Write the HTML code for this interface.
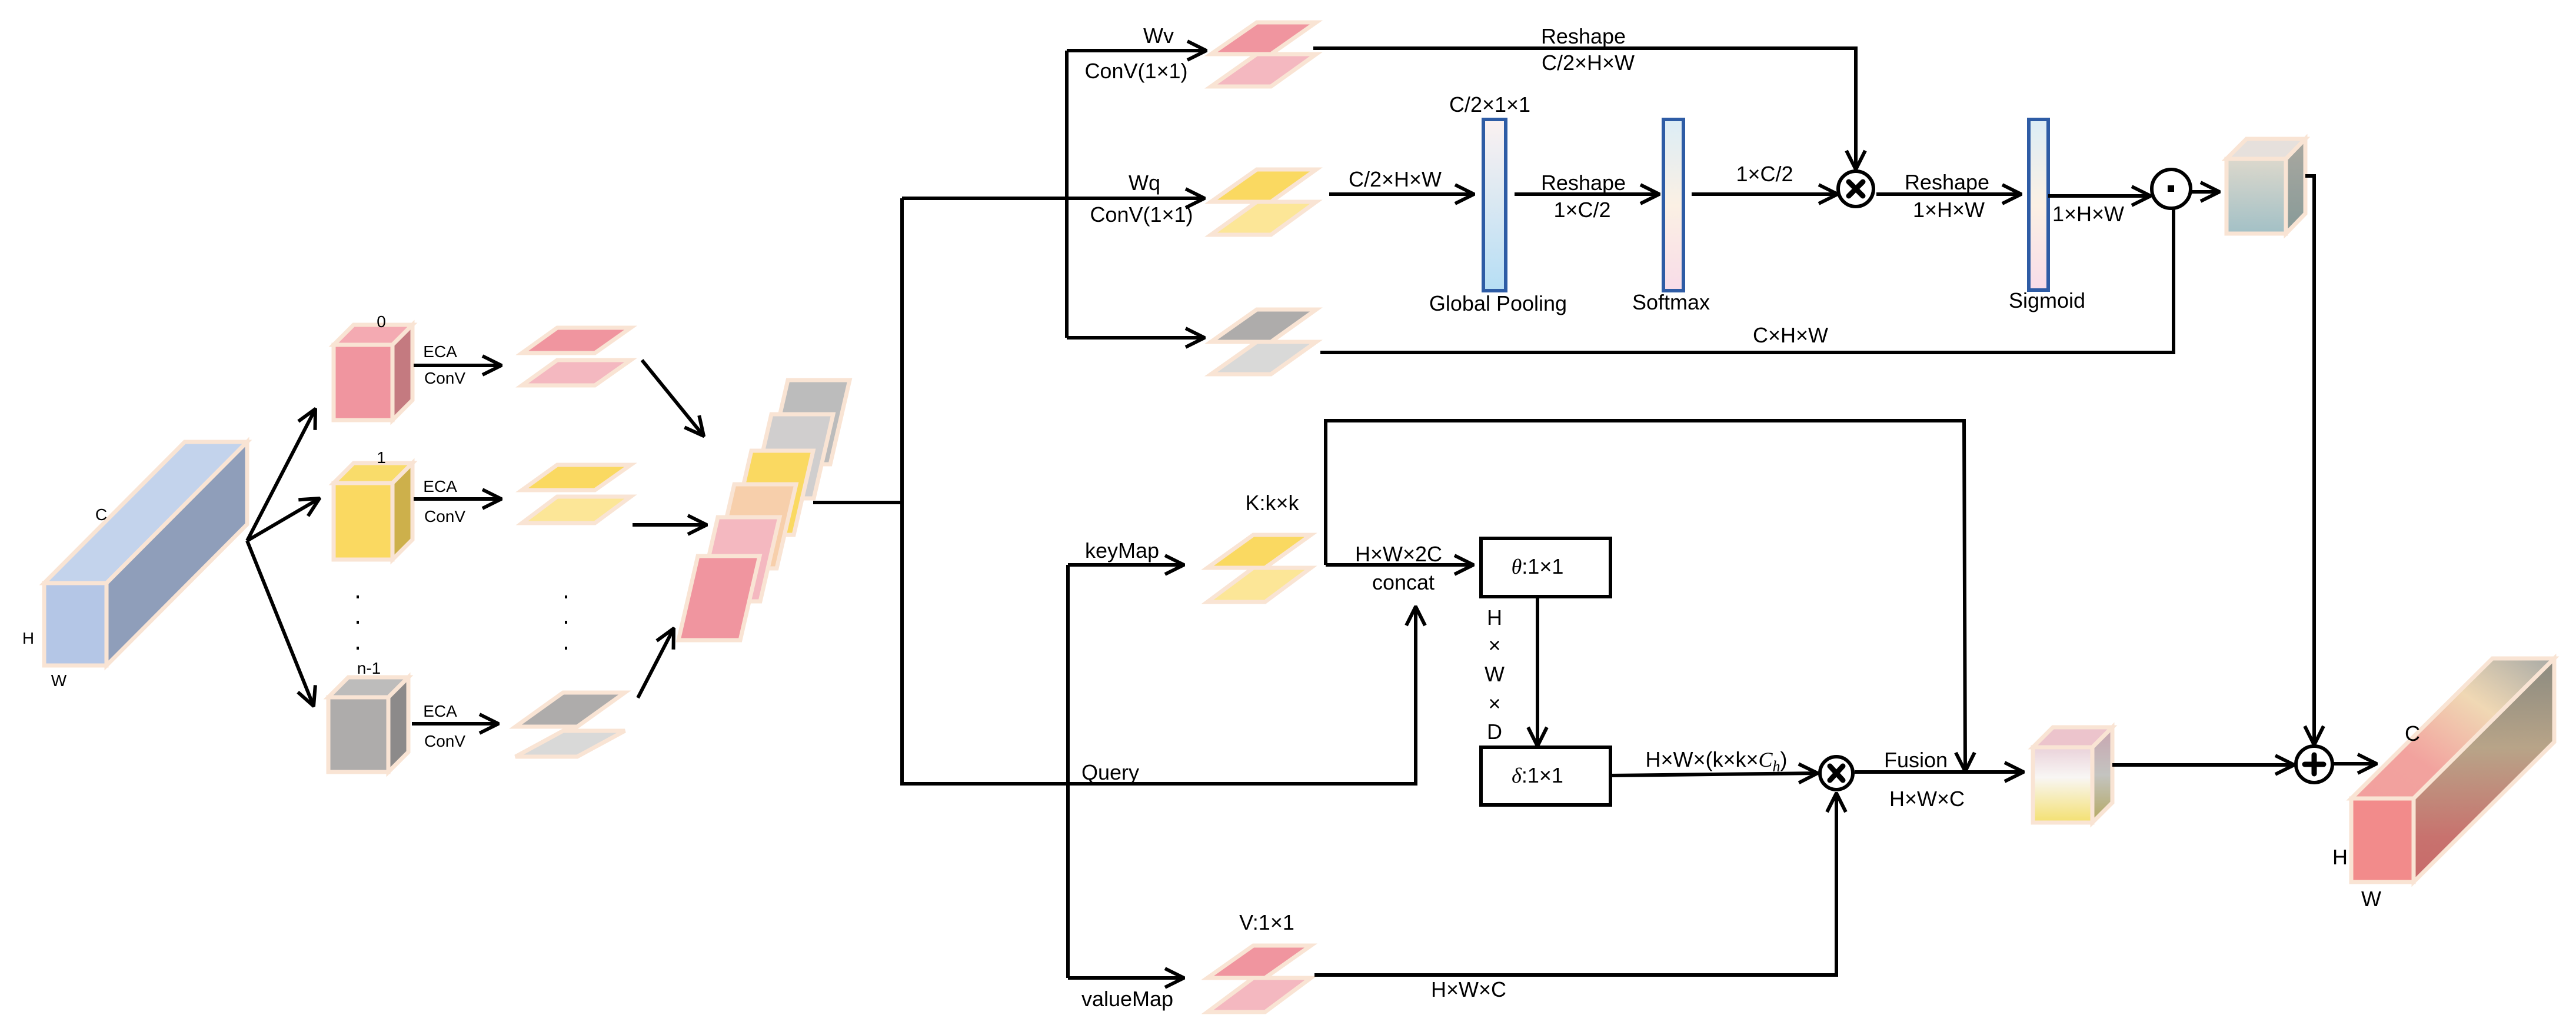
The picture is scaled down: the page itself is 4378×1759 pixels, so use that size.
<!DOCTYPE html>
<html><head><meta charset="utf-8"><style>html,body{margin:0;padding:0;background:#fff}svg{display:block}text{font-family:"Liberation Sans Narrow","Liberation Sans",sans-serif;fill:#000}</style></head>
<body>
<svg width="4378" height="1759" viewBox="0 0 4378 1759" xmlns="http://www.w3.org/2000/svg">
<defs>
<marker id="a" viewBox="0 0 20 20" refX="19" refY="10" markerUnits="userSpaceOnUse" markerWidth="40" markerHeight="40" orient="auto"><path d="M3,2 L19,10 L3,18" fill="none" stroke="#000" stroke-width="3"/></marker>
<linearGradient id="gp" x1="0" y1="0" x2="0" y2="1"><stop offset="0" stop-color="#fbf1f1"/><stop offset="1" stop-color="#b6def4"/></linearGradient>
<linearGradient id="sm" x1="0" y1="0" x2="0" y2="1"><stop offset="0" stop-color="#dcedf6"/><stop offset="0.5" stop-color="#fbf0e4"/><stop offset="1" stop-color="#f8dce8"/></linearGradient>
<linearGradient id="c1f" x1="0" y1="0" x2="0" y2="1"><stop offset="0" stop-color="#dcd8cc"/><stop offset="1" stop-color="#a2c0c6"/></linearGradient>
<linearGradient id="c1s" x1="0" y1="0" x2="0" y2="1"><stop offset="0" stop-color="#aaa8a0"/><stop offset="1" stop-color="#879a98"/></linearGradient>
<linearGradient id="c2f" x1="0" y1="0" x2="0" y2="1"><stop offset="0" stop-color="#ead2da"/><stop offset="0.4" stop-color="#f8f6f4"/><stop offset="1" stop-color="#f4e070"/></linearGradient>
<linearGradient id="c2s" x1="0" y1="0" x2="0" y2="1"><stop offset="0" stop-color="#c8a4b0"/><stop offset="0.5" stop-color="#c4c4c0"/><stop offset="1" stop-color="#b4a860"/></linearGradient>
<linearGradient id="obt" x1="1" y1="0" x2="0" y2="1"><stop offset="0" stop-color="#a8aaa6"/><stop offset="0.35" stop-color="#f0d8b4"/><stop offset="0.7" stop-color="#f2a29e"/><stop offset="1" stop-color="#f2a09e"/></linearGradient>
<linearGradient id="obs" x1="0" y1="0" x2="0" y2="1"><stop offset="0" stop-color="#8a8a80"/><stop offset="0.4" stop-color="#b8a488"/><stop offset="0.8" stop-color="#c8726e"/><stop offset="1" stop-color="#c86a6a"/></linearGradient>
</defs>
<g stroke="#f9e4d4" stroke-width="7" stroke-linejoin="miter">
<!-- input bar -->
<polygon points="75,991 314,751 420,751 181,991" fill="#c3d3ec"/>
<polygon points="181,991 420,751 420,891 181,1131" fill="#8f9eba"/>
<rect x="75" y="991" width="106" height="140" fill="#b4c6e6"/>
<!-- cubes -->
<polygon points="567,586 601,552 701,552 667,586" fill="#f4aab2"/><polygon points="667,586 701,552 701,680 667,714" fill="#c47a80"/><rect x="567" y="586" width="100" height="128" fill="#f0959f"/>
<polygon points="567,821 601,787 701,787 667,821" fill="#f9dc6a"/><polygon points="667,821 701,787 701,917 667,951" fill="#cdb04b"/><rect x="567" y="821" width="100" height="130" fill="#fad961"/>
<polygon points="558,1185 592,1151 694,1151 660,1185" fill="#bdbcbb"/><polygon points="660,1185 694,1151 694,1278 660,1312" fill="#8c8a8a"/><rect x="558" y="1185" width="102" height="127" fill="#aeacab"/>
<!-- small paras -->
<polygon points="887,600 1011,600 1072,557 947,557" fill="#f0959f"/><polygon points="887,655 1011,655 1072,612 947,612" fill="#f4b8c0"/>
<polygon points="887,833 1011,833 1072,790 947,790" fill="#fad961"/><polygon points="887,889 1011,889 1072,844 947,844" fill="#fce697"/>
<polygon points="876,1235 981,1235 1062,1177 957,1177" fill="#aeacab"/><polygon points="876,1286 981,1286 1062,1242 957,1242" fill="#d9d9d8"/>
<!-- stack -->
<polygon points="1306,789 1411,789 1444,646 1339,646" fill="#bcbcbc"/>
<polygon points="1278,847 1383,847 1416,704 1311,704" fill="#d0cece"/>
<polygon points="1244,909 1349,909 1382,766 1277,766" fill="#fad961"/>
<polygon points="1215,966 1320,966 1353,823 1248,823" fill="#f7cfab"/>
<polygon points="1187,1022 1292,1022 1325,879 1220,879" fill="#f4b8c0"/>
<polygon points="1153,1088 1258,1088 1291,945 1186,945" fill="#f0959f"/>
<!-- Wv/Wq paras -->
<polygon points="2058,92 2160,92 2237,38 2136,38" fill="#f0959f"/><polygon points="2058,147 2160,147 2237,92 2136,92" fill="#f4b8c0"/>
<polygon points="2058,343 2160,343 2237,288 2136,288" fill="#fad961"/><polygon points="2058,399 2160,399 2237,343 2136,343" fill="#fce697"/>
<polygon points="2058,581 2160,581 2237,526 2136,526" fill="#aeacab"/><polygon points="2058,636 2160,636 2237,581 2136,581" fill="#d9d9d8"/>
<polygon points="2052,965 2150,965 2228,909 2130,909" fill="#fad961"/><polygon points="2052,1023 2150,1023 2228,965 2130,965" fill="#fce697"/>
<polygon points="2052,1662 2150,1662 2228,1607 2130,1607" fill="#f0959f"/><polygon points="2052,1720 2150,1720 2228,1662 2130,1662" fill="#f4b8c0"/>
<!-- result cubes -->
<polygon points="3784,270 3818,236 3918,236 3885,270" fill="#e6e0dc"/><polygon points="3885,270 3918,236 3918,363 3885,397" fill="url(#c1s)"/><rect x="3784" y="270" width="101" height="127" fill="url(#c1f)"/>
<polygon points="3455,1270 3489,1236 3590,1236 3556,1270" fill="#ecc4cc"/><polygon points="3556,1270 3590,1236 3590,1364 3556,1398" fill="url(#c2s)"/><rect x="3455" y="1270" width="101" height="128" fill="url(#c2f)"/>
<!-- output bar -->
<polygon points="3996,1357 4236,1119 4341,1119 4102,1357" fill="url(#obt)"/>
<polygon points="4102,1357 4341,1119 4341,1261 4102,1499" fill="url(#obs)"/>
<rect x="3996" y="1357" width="106" height="142" fill="#f28b8b"/>
</g>
<!-- bars -->
<g stroke="#2e5ca5" stroke-width="6">
<rect x="2521" y="203" width="38" height="291" fill="url(#gp)"/>
<rect x="2827" y="203" width="34" height="291" fill="url(#sm)"/>
<rect x="3448" y="203" width="33" height="290" fill="url(#sm)"/>
</g>
<g stroke="#000" stroke-width="6" fill="none" marker-end="url(#a)">
<line x1="420" y1="919" x2="536" y2="695"/><line x1="420" y1="919" x2="543" y2="847"/><line x1="420" y1="919" x2="533" y2="1200"/>
<line x1="703" y1="621" x2="852" y2="621"/><line x1="703" y1="848" x2="852" y2="848"/><line x1="700" y1="1230" x2="847" y2="1230"/>
<line x1="1091" y1="612" x2="1196" y2="741"/><line x1="1075" y1="892" x2="1201" y2="892"/><line x1="1084" y1="1186" x2="1145" y2="1068"/>
<line x1="1533" y1="337" x2="2047" y2="337"/>
<polyline points="1813,86 1813,86 2050,86"/>
<polyline points="1813,574 2047,574"/>
<polyline points="1533,1332 2406,1332 2406,1031"/>
<line x1="1815" y1="960" x2="2012" y2="960"/><line x1="1815" y1="1662" x2="2012" y2="1662"/>
<polyline points="2232,82 3154,82 3154,288"/>
<line x1="2259" y1="330" x2="2505" y2="330"/><line x1="2574" y1="330" x2="2820" y2="330"/><line x1="2875" y1="330" x2="3123" y2="330"/><line x1="3189" y1="330" x2="3435" y2="330"/><line x1="3481" y1="333" x2="3655" y2="333"/><line x1="3725" y1="326" x2="3772" y2="326"/>
<polyline points="3918,299 3933,299 3933,1266"/>
<line x1="2253" y1="960" x2="2504" y2="960"/>
<polyline points="2253,960 2253,715 3338,715 3340,1311"/>
<line x1="2613" y1="1014" x2="2613" y2="1268"/>
<line x1="2737" y1="1318" x2="3089" y2="1314"/>
<polyline points="2234,1657 3121,1657 3121,1348"/>
<line x1="3152" y1="1312" x2="3439" y2="1312"/>
<line x1="3590" y1="1300" x2="3899" y2="1300"/>
<line x1="3965" y1="1298" x2="4039" y2="1298"/>
</g>
<g stroke="#000" stroke-width="6" fill="none">
<line x1="1382" y1="854" x2="1533" y2="854"/>
<line x1="1533" y1="337" x2="1533" y2="1335"/>
<line x1="1813" y1="86" x2="1813" y2="574"/>
<line x1="1815" y1="960" x2="1815" y2="1662"/>
<polyline points="2244,599 3694,599 3694,355"/>
<rect x="2517" y="915" width="220" height="99"/>
<rect x="2517" y="1270" width="220" height="98"/>
<circle cx="3154" cy="321" r="30"/>
<circle cx="3690" cy="321" r="33"/>
<circle cx="3121" cy="1314" r="28"/>
<circle cx="3933" cy="1299" r="31"/>
</g>
<g stroke="#000" stroke-width="9" stroke-linecap="round">
<line x1="3142" y1="309" x2="3166" y2="333"/><line x1="3166" y1="309" x2="3142" y2="333"/>
<line x1="3110" y1="1302" x2="3132" y2="1326"/><line x1="3132" y1="1302" x2="3110" y2="1326"/>
<line x1="3933" y1="1283" x2="3933" y2="1315"/><line x1="3917" y1="1299" x2="3949" y2="1299"/>
</g>
<rect x="3684" y="315" width="11" height="11" fill="#000"/>
<g fill="#000"><rect x="606" y="1012" width="4" height="5"/><rect x="606" y="1055" width="4" height="5"/><rect x="606" y="1099" width="4" height="5"/><rect x="960" y="1012" width="4" height="5"/><rect x="960" y="1055" width="4" height="5"/><rect x="960" y="1099" width="4" height="5"/></g>
<g font-size="28" text-anchor="middle">
<text x="172" y="884">C</text><text x="48" y="1094">H</text><text x="100" y="1166">W</text>
<text x="648" y="556">0</text><text x="648" y="787">1</text><text x="627" y="1145">n-1</text>
<text x="748" y="607">ECA</text><text x="756" y="652">ConV</text>
<text x="748" y="836">ECA</text><text x="756" y="887">ConV</text>
<text x="748" y="1218">ECA</text><text x="756" y="1269">ConV</text>
</g>
<g font-size="36" text-anchor="middle">
<text x="1969" y="73">Wv</text><text x="1931" y="133">ConV(1×1)</text>
<text x="1945" y="323">Wq</text><text x="1940" y="377">ConV(1×1)</text>
<text x="2691" y="74">Reshape</text><text x="2699" y="119">C/2×H×W</text>
<text x="2371" y="317">C/2×H×W</text>
<text x="2532" y="190">C/2×1×1</text>
<text x="2546" y="528">Global Pooling</text>
<text x="2691" y="323">Reshape</text><text x="2689" y="369">1×C/2</text>
<text x="2840" y="526">Softmax</text>
<text x="2999" y="308">1×C/2</text>
<text x="3309" y="322">Reshape</text><text x="3312" y="369">1×H×W</text>
<text x="3479" y="523">Sigmoid</text>
<text x="3549" y="376">1×H×W</text>
<text x="3043" y="582">C×H×W</text>
<text x="2162" y="867">K:k×k</text>
<text x="1907" y="948">keyMap</text>
<text x="2377" y="954">H×W×2C</text>
<text x="2385" y="1002">concat</text>
<text x="1887" y="1325">Query</text>
<text x="2613" y="975"><tspan font-style="italic" font-family="Liberation Serif">θ</tspan>:1×1</text>
<text x="2613" y="1330"><tspan font-style="italic" font-family="Liberation Serif">δ</tspan>:1×1</text>
<text x="2540" y="1062">H</text><text x="2540" y="1109">×</text><text x="2540" y="1158">W</text><text x="2540" y="1208">×</text><text x="2540" y="1256">D</text>
<text x="2917" y="1303">H×W×(k×k×<tspan font-style="italic" font-family="Liberation Serif">C</tspan><tspan font-style="italic" font-family="Liberation Serif" font-size="26" dy="8">h</tspan><tspan dy="-8">)</tspan></text>
<text x="3256" y="1304">Fusion</text><text x="3275" y="1370">H×W×C</text>
<text x="2153" y="1580">V:1×1</text>
<text x="1916" y="1710">valueMap</text>
<text x="2496" y="1694">H×W×C</text>
<text x="4100" y="1259">C</text><text x="3977" y="1469">H</text><text x="4030" y="1540">W</text>
</g>
</svg>
</body></html>
